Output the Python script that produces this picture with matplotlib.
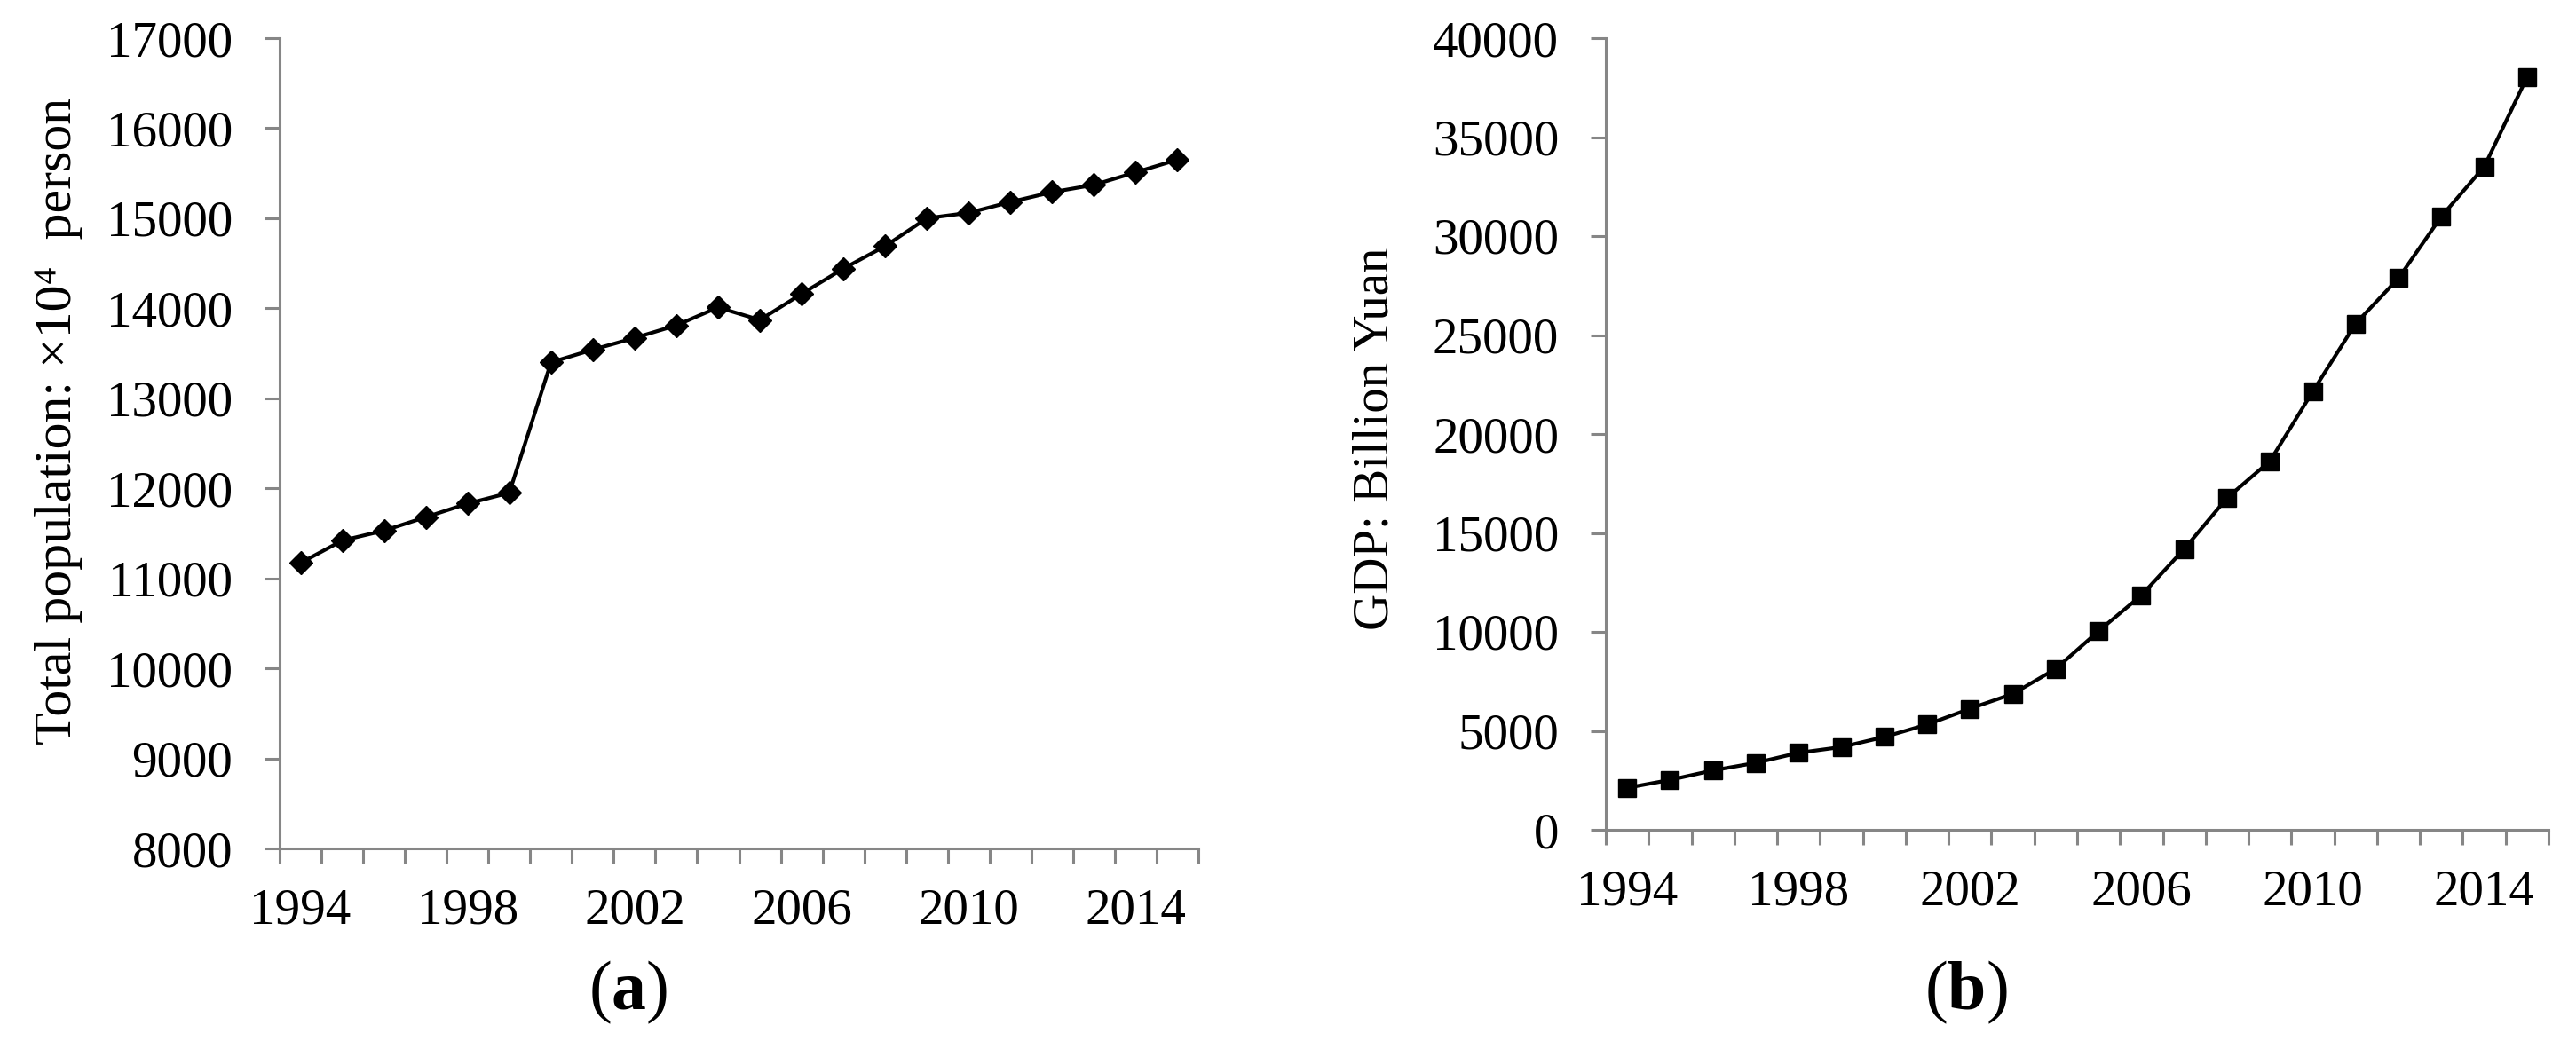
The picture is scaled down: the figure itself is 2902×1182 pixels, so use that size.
import matplotlib
matplotlib.use('Agg')
import matplotlib.pyplot as plt

plt.rcParams['font.family'] = ['Liberation Serif', 'DejaVu Serif']
plt.rcParams['mathtext.fontset'] = 'custom'
plt.rcParams['mathtext.rm'] = 'Liberation Serif'
plt.rcParams['mathtext.bf'] = 'Liberation Serif:bold'

years = list(range(1994, 2016))
label_years = [1994, 1998, 2002, 2006, 2010, 2014]

population = [11170, 11420, 11530, 11680, 11830, 11950, 13400, 13540, 13670, 13810, 14010,
              13870, 14160, 14440, 14690, 15000, 15060, 15180, 15290, 15370, 15510, 15650]

gdp = [2120, 2520, 3000, 3380, 3890, 4180, 4690, 5320, 6120, 6870, 8130,
       10040, 11850, 14190, 16770, 18630, 22150, 25580, 27870, 30990, 33500, 38030]

W, H = 2902, 1182
AXIS_GREY = '#868686'
TICK_SIZE = 41


def px_box(left, top, right, bottom):
    return [left / W, 1 - bottom / H, (right - left) / W, (bottom - top) / H]


def style_axes(ax, ymin, ymax, ystep):
    n = len(years)
    for side in ('top', 'right'):
        ax.spines[side].set_visible(False)
    for side in ('left', 'bottom'):
        ax.spines[side].set_color(AXIS_GREY)
        ax.spines[side].set_linewidth(2.2)
    ax.set_xlim(-0.5, n - 0.5)
    ax.set_ylim(ymin, ymax)
    ax.set_yticks(range(ymin, ymax + 1, ystep))
    ax.tick_params(axis='y', direction='out', length=12, width=2.2, color=AXIS_GREY,
                   pad=26, labelsize=TICK_SIZE)
    # category boundaries carry the tick marks, labels every 4 years
    ax.set_xticks([i - 0.5 for i in range(n + 1)])
    ax.set_xticklabels([])
    ax.set_xticks([years.index(y) for y in label_years], minor=True)
    ax.set_xticklabels([str(y) for y in label_years], minor=True)
    ax.tick_params(axis='x', which='major', direction='out', length=12, width=2.2,
                   color=AXIS_GREY)
    ax.tick_params(axis='x', which='minor', length=0, pad=32, labelsize=TICK_SIZE)


fig = plt.figure(figsize=(W / 100, H / 100), dpi=100)

ax1 = fig.add_axes(px_box(315, 43, 1350, 956))
x = range(len(years))
ax1.plot(x, population, color='black', lw=3, marker='D', markersize=13.5)
style_axes(ax1, 8000, 17000, 1000)

ax2 = fig.add_axes(px_box(1809, 43, 2871, 935))
ax2.plot(x, gdp, color='black', lw=3, marker='s', markersize=15)
style_axes(ax2, 0, 40000, 5000)

fig.text(66 / W, 1 - 474 / H, 'Total population: ×10⁴  person', rotation=90,
         ha='center', va='center', fontsize=43)
fig.text(1550 / W, 1 - 494 / H, 'GDP: Billion Yuan', rotation=90,
         ha='center', va='center', fontsize=TICK_SIZE)

fig.text(708 / W, 1 - 1118 / H, r'($\mathbf{a}$)', ha='center', va='center', fontsize=56)
fig.text(2215 / W, 1 - 1118 / H, r'($\mathbf{b}$)', ha='center', va='center', fontsize=56)

fig.savefig('out.png', dpi=100, facecolor='white')
